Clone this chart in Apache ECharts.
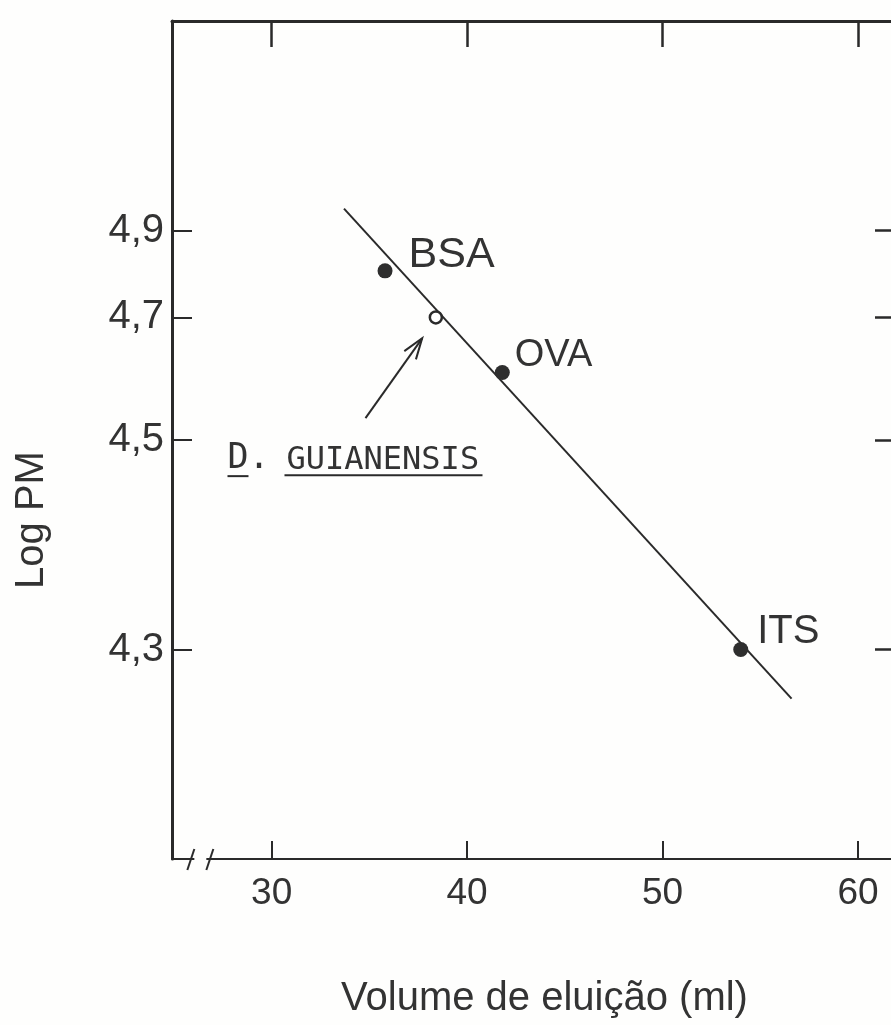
<!DOCTYPE html>
<html>
<head>
<meta charset="utf-8">
<title>Log PM x Volume de eluição</title>
<script src="https://cdn.jsdelivr.net/npm/echarts@6/dist/echarts.min.js"></script>
<style>
  html, body { margin: 0; padding: 0; background: #fefefd; }
  #chart { width: 891px; height: 1025px; }
</style>
</head>
<body>
<div id="chart"></div>
<script>
// Calibration standards (elution volume in ml, log of molecular weight)
const standardNames = ['BSA', 'OVA', 'ITS'];
const standardVolumes = [35.8, 41.8, 54.0];
const standardLogPM = [4.80, 4.60, 4.30];

// Unknown sample
const sampleVolumes = [38.4];
const sampleLogPM = [4.70];

// Calibration line end points
const fitVolumes = [33.7, 56.6];
const fitLogPM = [4.96, 4.27];

// Pointer towards the sample
const arrowFromVolume = 34.8, arrowFromLogPM = 4.53;
const arrowToVolume = 37.7, arrowToLogPM = 4.66;

// Axes
const xTicks = [30, 40, 50, 60];
const yTicks = [4.3, 4.5, 4.7, 4.9];
const xRange = [24.9, 62.2];
const yRange = [4.2, 5.7];
const axisBreakVolume = 26.35;

// The Log PM axis is graduated logarithmically above 4,1
const LOG_ORIGIN = 4.1;
const toAxis = v => Math.log(v - LOG_ORIGIN);
const fromAxis = t => LOG_ORIGIN + Math.exp(t);

const INK = '#2a2a2a';
const TEXT = '#333333';
const PAPER = '#fefefd';

const chart = echarts.init(document.getElementById('chart'), null, { renderer: 'canvas' });

const labelOffsets = {
  BSA: { distance: 16, offset: [0, -16], fontSize: 43 },
  OVA: { distance: 5, offset: [0, -17], fontSize: 38 },
  ITS: { distance: 9, offset: [0, -18], fontSize: 40 }
};

const standardData = standardNames.map((name, i) => ({
  name: name,
  value: [standardVolumes[i], toAxis(standardLogPM[i])],
  label: {
    distance: labelOffsets[name].distance,
    offset: labelOffsets[name].offset,
    fontSize: labelOffsets[name].fontSize
  }
}));

const option = {
  animation: false,
  backgroundColor: PAPER,
  grid: { left: 172, top: 21, width: 729, height: 838, outerBoundsMode: 'none', containLabel: false },
  xAxis: [
    {
      type: 'value', position: 'bottom', min: xRange[0], max: xRange[1],
      axisLine: { show: true, onZero: false, lineStyle: { color: INK, width: 2 } },
      axisTick: { show: true, inside: true, length: 18, customValues: xTicks, lineStyle: { color: INK, width: 2 } },
      axisLabel: { customValues: xTicks, fontSize: 37, margin: 16, color: TEXT, fontFamily: 'Liberation Sans' },
      splitLine: { show: false },
      name: 'Volume de eluição (ml)', nameLocation: 'middle', nameGap: 120,
      nameTextStyle: { fontSize: 40, color: TEXT, fontFamily: 'Liberation Sans', padding: [0, 0, 0, 16] }
    },
    {
      type: 'value', position: 'top', min: xRange[0], max: xRange[1],
      axisLine: { show: true, onZero: false, lineStyle: { color: INK, width: 3 } },
      axisTick: { show: true, inside: true, length: 26, customValues: xTicks, lineStyle: { color: INK, width: 2.5 } },
      axisLabel: { show: false },
      splitLine: { show: false }
    }
  ],
  yAxis: [
    {
      type: 'value', position: 'left', min: toAxis(yRange[0]), max: toAxis(yRange[1]),
      axisLine: { show: true, onZero: false, lineStyle: { color: INK, width: 3 } },
      axisTick: { show: true, inside: true, length: 20, customValues: yTicks.map(toAxis), lineStyle: { color: INK, width: 2 } },
      axisLabel: {
        customValues: yTicks.map(toAxis), fontSize: 40, margin: 8, color: TEXT, fontFamily: 'Liberation Sans',
        formatter: t => fromAxis(t).toFixed(1).replace('.', ',')
      },
      splitLine: { show: false },
      name: 'Log PM', nameLocation: 'middle', nameGap: 120, nameRotate: 90,
      nameTextStyle: { fontSize: 40, color: TEXT, fontFamily: 'Liberation Sans', padding: [0, 160, 0, 0] }
    },
    {
      type: 'value', position: 'right', min: toAxis(yRange[0]), max: toAxis(yRange[1]),
      axisLine: { show: true, onZero: false, lineStyle: { color: INK, width: 3 } },
      axisTick: { show: true, inside: true, length: 26, customValues: yTicks.map(toAxis), lineStyle: { color: INK, width: 2.5 } },
      axisLabel: { show: false },
      splitLine: { show: false }
    }
  ],
  series: [
    {
      type: 'line', name: 'ajuste',
      data: fitVolumes.map((v, i) => [v, toAxis(fitLogPM[i])]),
      symbol: 'none', lineStyle: { color: INK, width: 2 }, z: 2
    },
    {
      type: 'scatter', name: 'padrões',
      data: standardData,
      symbol: 'circle', symbolSize: 15,
      itemStyle: { color: '#2e2e2e', opacity: 1 },
      label: { show: true, position: 'right', formatter: '{b}', color: TEXT, fontFamily: 'Liberation Sans' },
      emphasis: { disabled: true },
      z: 3
    },
    {
      type: 'scatter', name: 'D. guianensis',
      data: sampleVolumes.map((v, i) => [v, toAxis(sampleLogPM[i])]),
      symbol: 'circle', symbolSize: 12,
      itemStyle: { color: '#ffffff', borderColor: INK, borderWidth: 2.5, opacity: 1 },
      emphasis: { disabled: true },
      z: 4
    },
    {
      type: 'custom', name: 'seta',
      data: [[arrowFromVolume, toAxis(arrowFromLogPM), arrowToVolume, toAxis(arrowToLogPM)]],
      renderItem: (params, api) => {
        const p0 = api.coord([api.value(0), api.value(1)]);
        const p1 = api.coord([api.value(2), api.value(3)]);
        const ang = Math.atan2(p1[1] - p0[1], p1[0] - p0[0]);
        const headLen = 22, spread = 0.33;
        const h1 = [p1[0] - headLen * Math.cos(ang - spread), p1[1] - headLen * Math.sin(ang - spread)];
        const h2 = [p1[0] - headLen * Math.cos(ang + spread), p1[1] - headLen * Math.sin(ang + spread)];
        const tx = p0[0], ty = p0[1];
        const mono = 'DejaVu Sans Mono';
        return {
          type: 'group',
          children: [
            { type: 'line', shape: { x1: p0[0], y1: p0[1], x2: p1[0], y2: p1[1] }, style: { stroke: INK, lineWidth: 2 } },
            { type: 'polyline', shape: { points: [h1, p1, h2] }, style: { stroke: INK, lineWidth: 2, fill: null } },
            { type: 'text', x: tx - 138, y: ty + 41, style: { text: 'D.', font: '35px "' + mono + '"', fill: TEXT, verticalAlign: 'middle', align: 'left' } },
            { type: 'text', x: tx - 79, y: ty + 43, style: { text: 'GUIANENSIS', font: '32px "' + mono + '"', fill: TEXT, verticalAlign: 'middle', align: 'left' } },
            { type: 'line', shape: { x1: tx - 138, y1: ty + 58, x2: tx - 117, y2: ty + 58 }, style: { stroke: INK, lineWidth: 2 } },
            { type: 'line', shape: { x1: tx - 81, y1: ty + 57, x2: tx + 117, y2: ty + 57 }, style: { stroke: INK, lineWidth: 2 } }
          ]
        };
      },
      z: 5
    },
    {
      type: 'custom', name: 'quebra',
      data: [[axisBreakVolume, toAxis(yRange[0])]],
      renderItem: (params, api) => {
        const p = api.coord([api.value(0), api.value(1)]);
        return {
          type: 'group',
          children: [
            { type: 'rect', shape: { x: p[0] - 6, y: p[1] - 3, width: 12, height: 6 }, style: { fill: PAPER } },
            { type: 'line', shape: { x1: p[0] - 13, y1: p[1] + 11, x2: p[0] - 6, y2: p[1] - 10 }, style: { stroke: INK, lineWidth: 2 } },
            { type: 'line', shape: { x1: p[0] + 6, y1: p[1] + 11, x2: p[0] + 13, y2: p[1] - 10 }, style: { stroke: INK, lineWidth: 2 } }
          ]
        };
      },
      z: 6
    }
  ]
};

chart.setOption(option);
</script>
</body>
</html>
